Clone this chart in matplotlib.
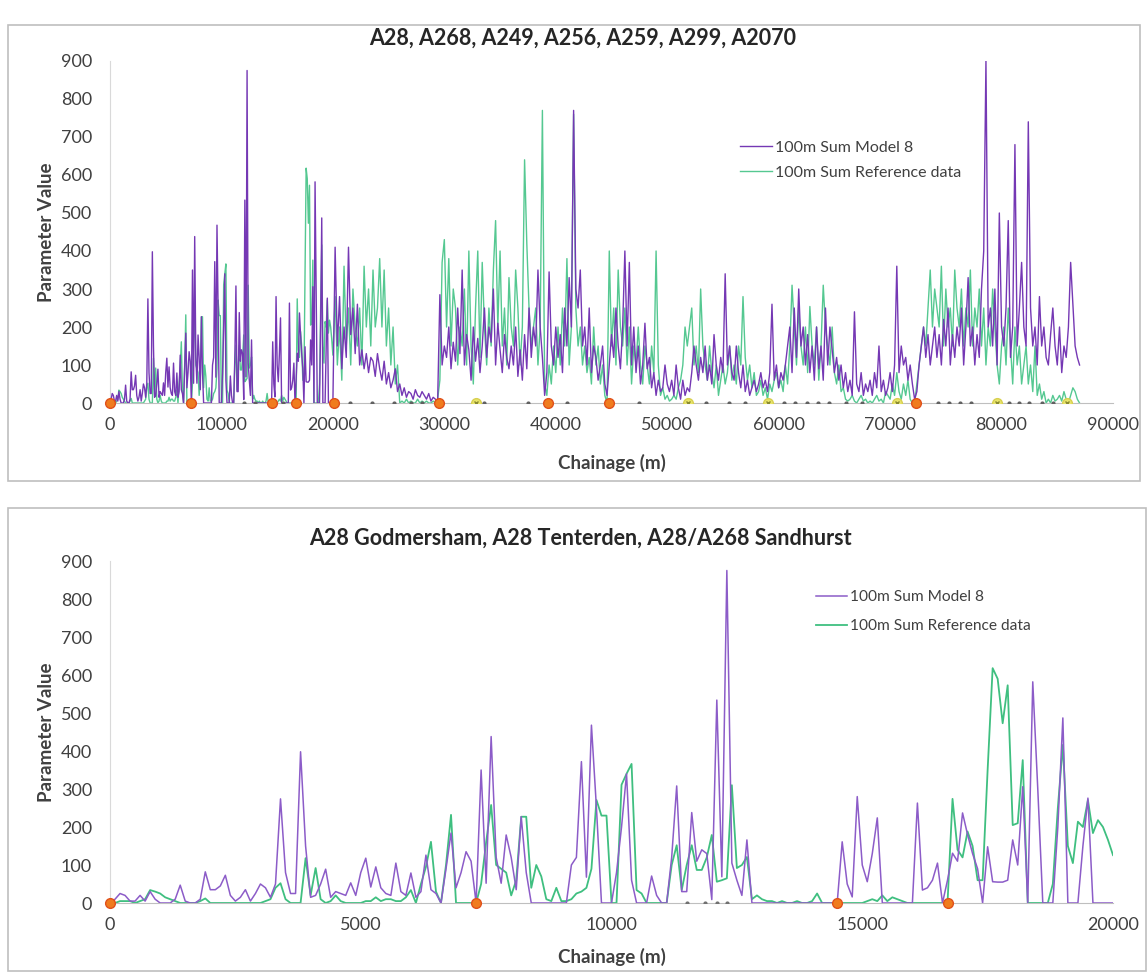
import numpy as np
import matplotlib
matplotlib.use('Agg')
import matplotlib.pyplot as plt
from matplotlib.patches import Rectangle

plt.rcParams['font.family'] = ['Lato', 'DejaVu Sans']

# ---- data: 100 m sums, chainage 0-20000 at 100 m steps ----
model_0_20k = [
    0, 10, 25, 20, 5, 5, 20, 5, 30, 10,
    0, 0, 0, 10, 47, 5, 0, 0, 10, 82,
    35, 35, 45, 73, 20, 5, 15, 35, 5, 25,
    50, 40, 15, 50, 274, 80, 25, 25, 398, 150,
    15, 20, 50, 89, 15, 30, 25, 20, 53, 20,
    80, 118, 42, 95, 40, 25, 20, 105, 30, 20,
    79, 15, 30, 126, 35, 25, 0, 90, 184, 40,
    80, 135, 110, 0, 350, 52, 438, 120, 52, 179,
    120, 35, 227, 80, 0, 0, 0, 0, 0, 0,
    0, 0, 100, 120, 372, 68, 468, 250, 0, 0,
    0, 80, 200, 340, 60, 0, 0, 0, 71, 20,
    0, 0, 120, 308, 30, 30, 238, 110, 140, 130,
    9, 534, 69, 875, 105, 60, 20, 166, 0, 0,
    0, 0, 0, 0, 0, 0, 0, 0, 0, 0,
    0, 0, 0, 0, 0, 0, 161, 50, 16, 280,
    100, 56, 130, 224, 0, 0, 0, 0, 0, 0,
    0, 263, 34, 40, 60, 105, 0, 60, 131, 110,
    237, 180, 130, 90, 0, 148, 56, 55, 55, 60,
    166, 100, 306, 0, 582, 300, 0, 0, 0, 200,
    487, 0, 0, 0, 150, 276, 0, 0, 0, 0,
    0]
ref_0_20k = [
    0, 0, 5, 5, 5, 0, 5, 10, 34, 30,
    25, 15, 10, 5, 0, 0, 0, 0, 5, 12,
    0, 0, 0, 0, 0, 0, 0, 0, 0, 0,
    0, 5, 10, 40, 52, 10, 0, 0, 0, 118,
    20, 92, 10, 0, 5, 20, 5, 0, 0, 0,
    0, 5, 5, 15, 5, 10, 10, 5, 5, 15,
    34, 0, 50, 95, 161, 30, 0, 100, 232, 0,
    0, 0, 0, 0, 50, 160, 258, 100, 90, 80,
    20, 60, 227, 227, 40, 100, 70, 10, 5, 40,
    5, 5, 10, 25, 30, 40, 90, 271, 230, 230,
    0, 0, 311, 340, 366, 34, 25, 0, 0, 0,
    0, 0, 100, 152, 34, 100, 152, 87, 87, 120,
    179, 56, 60, 65, 310, 92, 100, 121, 10, 20,
    10, 5, 5, 0, 5, 0, 0, 5, 0, 0,
    5, 25, 0, 0, 0, 0, 0, 0, 0, 0,
    0, 5, 10, 5, 20, 5, 15, 10, 5, 0,
    0, 0, 0, 0, 0, 0, 0, 0, 274, 140,
    120, 188, 150, 60, 60, 350, 618, 590, 473, 573,
    205, 210, 376, 0, 0, 0, 0, 0, 50, 250,
    416, 150, 105, 214, 200, 271, 184, 218, 200, 166,
    126]

# ---- rest of the route, 20200-87000 read at 200 m steps ----
model_20k_87k = [
    410, 150, 280, 90, 200, 120, 410, 180, 250, 130,
    260, 100, 140, 90, 130, 80, 120, 110, 70, 130,
    90, 60, 110, 50, 80, 40, 60, 90, 30, 50,
    20, 40, 15, 30, 25, 10, 35, 20, 15, 30,
    20, 10, 25, 5, 15, 10, 5, 285, 100, 150,
    120, 200, 90, 160, 110, 250, 130, 350, 100, 180,
    140, 60, 200, 110, 170, 80, 150, 250, 120, 200,
    160, 300, 100, 210, 140, 80, 180, 120, 90, 150,
    100, 200, 70, 140, 60, 180, 90, 250, 120, 200,
    150, 350, 200, 120, 20, 80, 345, 150, 100, 200,
    120, 180, 80, 250, 150, 330, 200, 770, 300, 250,
    350, 150, 200, 100, 250, 80, 150, 120, 60, 100,
    150, 50, 20, 100, 180, 120, 250, 150, 90, 200,
    400, 150, 370, 100, 200, 80, 150, 50, 100, 210,
    90, 120, 40, 80, 20, 60, 30, 40, 100, 50,
    30, 60, 20, 100, 40, 10, 60, 20, 40, 30,
    80, 150, 100, 60, 120, 80, 150, 60, 100, 50,
    180, 100, 60, 120, 80, 340, 100, 150, 80, 60,
    150, 80, 40, 100, 30, 60, 20, 40, 60, 30,
    50, 80, 40, 60, 30, 80, 260, 60, 100, 40,
    80, 60, 100, 150, 200, 80, 250, 120, 300, 150,
    200, 100, 180, 80, 150, 60, 200, 90, 150, 60,
    250, 100, 200, 140, 80, 120, 60, 100, 40, 80,
    30, 60, 20, 240, 50, 30, 80, 20, 50, 30,
    60, 20, 80, 40, 150, 30, 60, 20, 40, 80,
    30, 100, 360, 80, 150, 100, 120, 60, 100, 50,
    10, 30, 100, 150, 200, 120, 180, 100, 150, 200,
    120, 180, 100, 220, 150, 250, 100, 180, 120, 200,
    150, 250, 100, 200, 330, 150, 200, 100, 180, 120,
    300, 400, 900, 200, 250, 150, 300, 100, 500, 200,
    150, 250, 480, 120, 200, 680, 150, 250, 370, 200,
    150, 740, 250, 150, 200, 100, 280, 150, 200, 120,
    100, 180, 250, 150, 100, 200, 80, 150, 120, 200,
    370, 260, 150, 120, 100]
ref_20k_87k = [
    280, 100, 200, 60, 360, 150, 250, 100, 300, 200,
    150, 250, 100, 360, 200, 300, 150, 350, 200, 250,
    380, 200, 350, 150, 250, 100, 200, 50, 100, 0,
    5, 0, 10, 0, 5, 0, 0, 10, 0, 5,
    0, 5, 0, 0, 5, 0, 10, 60, 370, 430,
    200, 380, 150, 300, 250, 100, 200, 150, 300, 100,
    400, 150, 50, 250, 400, 120, 370, 200, 100, 250,
    150, 350, 480, 200, 400, 150, 250, 100, 330, 200,
    150, 350, 250, 100, 200, 640, 420, 250, 150, 200,
    250, 100, 200, 770, 50, 20, 100, 50, 150, 80,
    200, 100, 250, 150, 380, 100, 200, 760, 250, 150,
    200, 100, 150, 80, 120, 50, 200, 100, 150, 50,
    100, 20, 0, 400, 150, 250, 100, 350, 200, 150,
    250, 100, 200, 50, 150, 100, 200, 100, 50, 150,
    100, 50, 150, 80, 400, 100, 20, 40, 10, 20,
    5, 10, 20, 10, 40, 60, 100, 200, 150, 200,
    250, 100, 150, 80, 300, 150, 100, 60, 150, 80,
    40, 100, 20, 60, 100, 50, 80, 150, 60, 100,
    50, 150, 100, 280, 120, 60, 100, 40, 80, 20,
    30, 60, 20, 40, 10, 50, 30, 60, 80, 40,
    60, 30, 100, 50, 150, 310, 200, 100, 250, 150,
    100, 200, 80, 254, 150, 100, 200, 60, 150, 310,
    200, 150, 100, 200, 80, 50, 100, 30, 40, 10,
    5, 10, 20, 5, 0, 10, 20, 5, 10, 0,
    5, 0, 10, 20, 5, 10, 0, 30, 20, 10,
    50, 20, 80, 30, 10, 50, 20, 60, 10, 0,
    0, 50, 100, 150, 200, 150, 250, 350, 200, 300,
    250, 200, 360, 150, 300, 200, 250, 150, 350, 250,
    200, 300, 150, 250, 200, 350, 150, 250, 200, 300,
    150, 250, 100, 200, 150, 300, 200, 100, 50, 150,
    200, 100, 250, 150, 50, 200, 100, 150, 50, 100,
    150, 50, 100, 30, 150, 20, 50, 10, 30, 0,
    10, 0, 20, 5, 10, 20, 5, 30, 10, 0,
    20, 40, 30, 10, 0]

# markers on the baseline (section joins etc.)
orange_pts = [0, 7300, 14500, 16700, 20100, 29500, 39300, 44800, 72300]
yellow_pts = [32800, 51900, 59000, 70600, 79600, 85900]
grey_top = [12000, 13000, 15500, 21500, 23500, 25500, 27000, 28000, 33600, 37500,
            41000, 47500, 53500, 55500, 57000, 60500, 61500, 62500, 63500, 64500,
            66000, 67500, 74300, 75300, 76300, 77300, 80700, 81600, 82500, 83600, 84600]
grey_bot = [11500, 11860, 12100, 12300]

x_bot = np.arange(0, 20001, 100)
x_rest = np.arange(20200, 87001, 200)
x_top = np.concatenate([x_bot, x_rest])
model_top = model_0_20k + model_20k_87k
ref_top = ref_0_20k + ref_20k_87k

PURPLE = '#7538b4'
GREEN = '#42c285'
TXT = '#404040'

W, H = 1147, 972
fig = plt.figure(figsize=(W / 100, H / 100), dpi=100)

# panel frames
fig.patches.append(Rectangle((8 / W, 1 - 481 / H), 1132 / W, 456 / H, transform=fig.transFigure,
                             fill=False, edgecolor='#bfbfbf', lw=1.2))
fig.patches.append(Rectangle((8 / W, 1 - 971 / H), 1138 / W, 463 / H, transform=fig.transFigure,
                             fill=False, edgecolor='#bfbfbf', lw=1.2))


def style_axes(ax, xmax, xticks, xlab_y):
    ax.set_xlim(0, xmax)
    ax.set_ylim(0, 900)
    ax.set_yticks(range(0, 901, 100))
    ax.set_xticks(xticks)
    ax.set_xticklabels([str(t) for t in xticks])
    for s in ['top', 'right']:
        ax.spines[s].set_visible(False)
    ax.spines['left'].set_color('#d9d9d9')
    ax.spines['bottom'].set_color('#bfbfbf')
    ax.tick_params(length=0, labelsize=13, colors=TXT)
    ax.tick_params(axis='x', pad=10)
    ax.tick_params(axis='y', pad=13)
    ax.set_ylabel('Parameter Value', fontsize=13.5, fontweight='bold', color=TXT)
    ax.set_xlabel('Chainage (m)', fontsize=13.5, fontweight='bold', color=TXT)
    ax.yaxis.set_label_coords(-0.055, 0.5)
    ax.xaxis.set_label_coords(0.5, xlab_y)


# ---- top panel ----
ax1 = fig.add_axes([110 / W, 1 - 403 / H, 1003 / W, 342 / H])
ax1.plot(x_top, model_top, color=PURPLE, lw=1.0, label='100m Sum Model 8', zorder=3)
ax1.plot(x_top, ref_top, color=GREEN, lw=1.0, alpha=0.9, label='100m Sum Reference data', zorder=2)
ax1.plot(grey_top, [0] * len(grey_top), 'o', color='#606060', ms=2, zorder=4)
ax1.plot(orange_pts, [0] * len(orange_pts), 'o', color='#f07c1e', mec='#e0501a', ms=7, zorder=5, clip_on=False)
ax1.plot(yellow_pts, [0] * len(yellow_pts), 'o', color='#e8e46a', mec='#d8d050', ms=7, zorder=5)
ax1.plot(yellow_pts, [0] * len(yellow_pts), 'x', color='#8a8a30', ms=3, zorder=6)
style_axes(ax1, 90000, list(range(0, 90001, 10000)), -0.15)
ax1.legend(loc='upper left', bbox_to_anchor=(0.614, 0.81), frameon=False, fontsize=11.5,
           handlelength=2.0, handletextpad=0.15, labelspacing=0.7, labelcolor=TXT)
fig.text(583 / W, 1 - 38 / H, 'A28, A268, A249, A256, A259, A299, A2070', ha='center', va='center',
         fontsize=15.5, fontweight='bold', color='#262626')

# ---- bottom panel ----
ax2 = fig.add_axes([110 / W, 1 - 903 / H, 1003 / W, 342 / H])
ax2.plot(x_bot, model_0_20k, color='#8c5cc8', lw=1.1, label='100m Sum Model 8', zorder=3)
ax2.plot(x_bot, ref_0_20k, color='#3fbf80', lw=1.3, label='100m Sum Reference data', zorder=2)
ax2.plot(grey_bot, [0] * len(grey_bot), 'o', color='#707070', ms=2, zorder=4)
bot_orange = [p for p in orange_pts if p <= 20000]
ax2.plot(bot_orange, [0] * len(bot_orange), 'o', color='#f07c1e', mec='#e0501a', ms=7, zorder=5, clip_on=False)
style_axes(ax2, 20000, list(range(0, 20001, 5000)), -0.13)
ax2.legend(loc='upper left', bbox_to_anchor=(0.690, 0.955), frameon=False, fontsize=11.2,
           handlelength=2.0, handletextpad=0.15, labelspacing=0.95, labelcolor=TXT)
fig.text(580 / W, 1 - 538 / H, 'A28 Godmersham, A28 Tenterden, A28/A268 Sandhurst', ha='center', va='center',
         fontsize=15.5, fontweight='bold', color='#262626')

fig.savefig('out.png', dpi=100)
